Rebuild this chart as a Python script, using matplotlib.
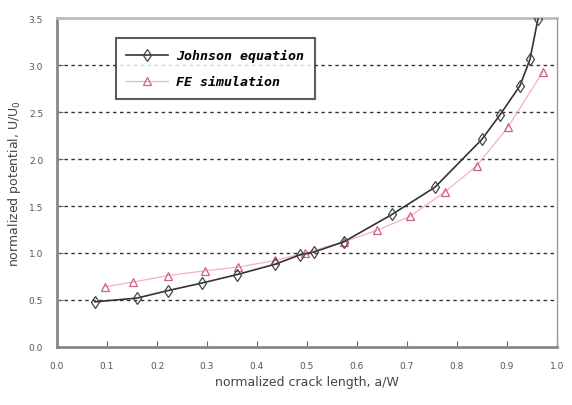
import matplotlib
matplotlib.use("Agg")
import matplotlib.pyplot as plt

# -----------------------------
# Data
# -----------------------------
johnson_a = [0.076, 0.160, 0.222, 0.290, 0.360, 0.436, 0.486, 0.514, 0.574,
             0.670, 0.756, 0.850, 0.886, 0.926, 0.946, 0.962]
johnson_u = [0.48, 0.52, 0.60, 0.68, 0.77, 0.88, 0.98, 1.01, 1.12,
             1.41, 1.70, 2.21, 2.47, 2.78, 3.06, 3.49]

fe_a = [0.096, 0.152, 0.222, 0.296, 0.362, 0.436, 0.496, 0.574, 0.640,
        0.706, 0.776, 0.840, 0.902, 0.972]
fe_u = [0.64, 0.69, 0.76, 0.81, 0.85, 0.92, 1.00, 1.12, 1.24,
        1.39, 1.65, 1.93, 2.34, 2.93]

x_ticks = [0.0, 0.1, 0.2, 0.3, 0.4, 0.5, 0.6, 0.7, 0.8, 0.9, 1.0]
y_ticks = [0.0, 0.5, 1.0, 1.5, 2.0, 2.5, 3.0, 3.5]
grid_levels = [0.5, 1.0, 1.5, 2.0, 2.5, 3.0]

# -----------------------------
# Plot setup
# -----------------------------
fig = plt.figure(figsize=(5.72, 4.06), dpi=100)
ax = fig.add_axes([0.0997, 0.143, 0.874, 0.810])

for g in grid_levels:
    ax.axhline(g, color="#333333", lw=1.0, ls=(0, (2.5, 2.5)), zorder=1)

ax.plot(fe_a, fe_u, color="#f4b0c4", lw=0.9, marker="^", ms=6,
        mfc="none", mec="#d06080", mew=0.9, label="FE simulation", zorder=2)
ax.plot(johnson_a, johnson_u, color="#333333", lw=1.2, marker="d", ms=6,
        mfc="none", mec="#444444", mew=0.9, label="Johnson equation", zorder=3)

ax.set_xlim(0.0, 1.0)
ax.set_ylim(0.0, 3.5)
ax.set_xticks(x_ticks)
ax.set_yticks(y_ticks)
ax.set_xticklabels([f"{v:.1f}" for v in x_ticks])
ax.set_yticklabels([f"{v:.1f}" for v in y_ticks])
ax.tick_params(direction="in", length=4, labelsize=6.5, colors="#666666",
               labelcolor="#555555", pad=10)

# spines
ax.spines["left"].set_color("#888888")
ax.spines["left"].set_linewidth(2.0)
ax.spines["bottom"].set_color("#888888")
ax.spines["bottom"].set_linewidth(2.0)
ax.spines["top"].set_color("#bbbbbb")
ax.spines["top"].set_linewidth(2.0)
ax.spines["right"].set_color("#999999")
ax.spines["right"].set_linewidth(1.0)

ax.set_xlabel("normalized crack length, a/W", fontsize=9, color="#444444")
ax.set_ylabel("normalized potential, U/U$_0$", fontsize=9, color="#444444")

handles, labels = ax.get_legend_handles_labels()
leg = ax.legend(handles[::-1], labels[::-1], loc="upper left",
                bbox_to_anchor=(0.104, 0.958), frameon=True, fancybox=False,
                edgecolor="#333333", handlelength=3.2, borderpad=0.8,
                labelspacing=1.0, handletextpad=0.6,
                prop={"family": "DejaVu Sans Mono", "style": "italic",
                      "weight": "bold", "size": 9.5})
leg.get_frame().set_linewidth(1.5)
leg.set_zorder(5)

fig.savefig("out.png", dpi=100, facecolor="white")
